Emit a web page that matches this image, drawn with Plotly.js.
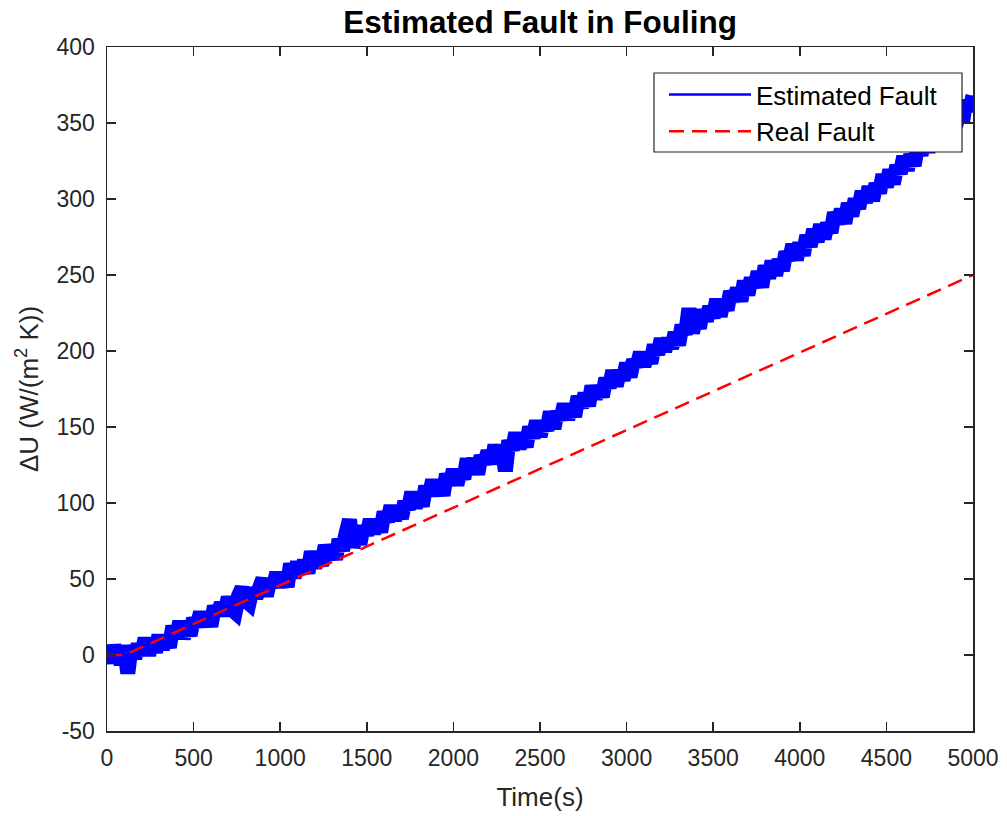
<!DOCTYPE html>
<html>
<head>
<meta charset="utf-8">
<script src="https://cdn.plot.ly/plotly-3.0.1.min.js"></script>
<style>
  html, body { margin: 0; padding: 0; background: #ffffff; }
  #chart { width: 1007px; height: 816px; }
</style>
</head>
<body>
<div id="chart"></div>
<script>
// Estimated fouling fault (observer output), sampled every 20 s from 0 to 5000 s
const sampleStart = 0;
const sampleStep = 20;
const estimatedFault = [
  3, -5, 6, -1, -5,
  6, -12, 6, -2, 7,
  0, 11, 0, 9, 2,
  13, 4, 12, 5, 19,
  11, 22, 11, 19, 13,
  24, 19, 28, 20, 27,
  19, 32, 27, 34, 26,
  38, 30, 28, 39, 44,
  36, 34, 44, 38, 44,
  50, 39, 49, 45, 54,
  45, 53, 45, 60, 51,
  61, 54, 62, 54, 68,
  58, 64, 59, 72, 65,
  71, 63, 76, 69, 80,
  89, 71, 80, 73, 85,
  79, 89, 80, 89, 81,
  94, 88, 98, 89, 96,
  90, 101, 96, 107, 97,
  105, 98, 111, 105, 115,
  106, 114, 105, 119, 112,
  122, 112, 121, 116, 129,
  120, 129, 119, 131, 126,
  134, 126, 138, 128, 138,
  121, 141, 135, 146, 136,
  144, 137, 150, 143, 154,
  144, 153, 148, 160, 149,
  160, 155, 165, 155, 165,
  157, 170, 163, 172, 164,
  177, 169, 176, 170, 182,
  176, 187, 177, 187, 181,
  192, 183, 194, 190, 199,
  190, 199, 192, 204, 198,
  208, 200, 208, 202, 212,
  204, 217, 211, 228, 212,
  222, 215, 227, 220, 229,
  222, 234, 223, 233, 227,
  239, 233, 241, 233, 246,
  237, 248, 242, 252, 242,
  256, 248, 259, 250, 260,
  253, 265, 260, 270, 260,
  271, 263, 276, 269, 280,
  272, 283, 274, 284, 278,
  291, 284, 293, 284, 297,
  289, 300, 294, 305, 298,
  308, 299, 310, 304, 316,
  308, 319, 310, 322, 317,
  328, 319, 329, 322, 335,
  329, 340, 331, 342, 334,
  347, 340, 352, 346, 355,
  348, 358, 351, 365, 358,
  368
];

// Real (injected) fouling fault: zero until onset, then a linear ramp
const realFaultTime = [0, 100, 5000];
const realFaultValue = [0, 0, 250];

// Axis ticks
const xTicks = [0, 500, 1000, 1500, 2000, 2500, 3000, 3500, 4000, 4500, 5000];
const yTicks = [-50, 0, 50, 100, 150, 200, 250, 300, 350, 400];

const estimatedTime = estimatedFault.map((_, i) => sampleStart + i * sampleStep);

const axisColor = '#262626';
const fontFamily = 'Liberation Sans, Arial, Helvetica, sans-serif';

const traces = [
  // wide stroke gives the dense noisy signal its band
  {
    type: 'scatter',
    mode: 'lines',
    name: 'Estimated Fault',
    showlegend: false,
    x: estimatedTime,
    y: estimatedFault,
    line: { color: '#0000ff', width: 15, simplify: false }
  },
  // fine stroke over it keeps the individual spikes
  {
    type: 'scatter',
    mode: 'lines',
    name: 'Estimated Fault',
    x: estimatedTime,
    y: estimatedFault,
    line: { color: '#0000ff', width: 2.5, simplify: false }
  },
  {
    type: 'scatter',
    mode: 'lines',
    name: 'Real Fault',
    x: realFaultTime,
    y: realFaultValue,
    line: { color: '#ff0000', width: 2.5, dash: '15px,8px' }
  }
];

const axisCommon = {
  showline: true,
  linecolor: axisColor,
  linewidth: 1.5,
  mirror: 'ticks',
  ticks: 'inside',
  ticklen: 9,
  tickwidth: 1.5,
  tickcolor: axisColor,
  showgrid: false,
  zeroline: false,
  tickfont: { family: fontFamily, size: 23, color: axisColor }
};

const layout = {
  width: 1007,
  height: 816,
  paper_bgcolor: '#ffffff',
  plot_bgcolor: '#ffffff',
  margin: { l: 107, r: 34, t: 47, b: 85 },
  showlegend: true,
  title: {
    text: '<b>Estimated Fault in Fouling</b>',
    font: { family: fontFamily, size: 31.5, color: '#000000' },
    x: 0.5,
    xref: 'paper',
    xanchor: 'center',
    y: 1 - 22 / 816,
    yref: 'container',
    yanchor: 'middle'
  },
  xaxis: Object.assign({}, axisCommon, {
    range: [0, 5000],
    tickvals: xTicks,
    ticktext: xTicks.map(String),
    ticklabelstandoff: 6,
    title: {
      text: 'Time(s)',
      font: { family: fontFamily, size: 26, color: axisColor },
      standoff: 17
    }
  }),
  yaxis: Object.assign({}, axisCommon, {
    range: [-50, 400],
    tickvals: yTicks,
    ticktext: yTicks.map(String),
    ticklabelstandoff: 6,
    title: {
      text: '\u0394U (W/(m<sup>2</sup> K))',
      font: { family: fontFamily, size: 26, color: axisColor },
      standoff: 10
    }
  }),
  // Opaque legend frame
  shapes: [
    {
      type: 'rect',
      xref: 'paper',
      yref: 'paper',
      x0: (654 - 107) / 866,
      x1: (962 - 107) / 866,
      y0: (731 - 152) / 684,
      y1: (731 - 73) / 684,
      line: { color: axisColor, width: 1.2 },
      fillcolor: '#ffffff',
      layer: 'above'
    }
  ],
  legend: {
    x: (664 - 107) / 866,
    xanchor: 'left',
    y: (731 - 71) / 684,
    yanchor: 'top',
    bgcolor: 'rgba(0,0,0,0)',
    borderwidth: 0,
    itemwidth: 82,
    tracegroupgap: 0,
    font: { family: fontFamily, size: 26, color: '#000000' }
  }
};

Plotly.newPlot('chart', traces, layout, { displayModeBar: false, staticPlot: true });
</script>
</body>
</html>
